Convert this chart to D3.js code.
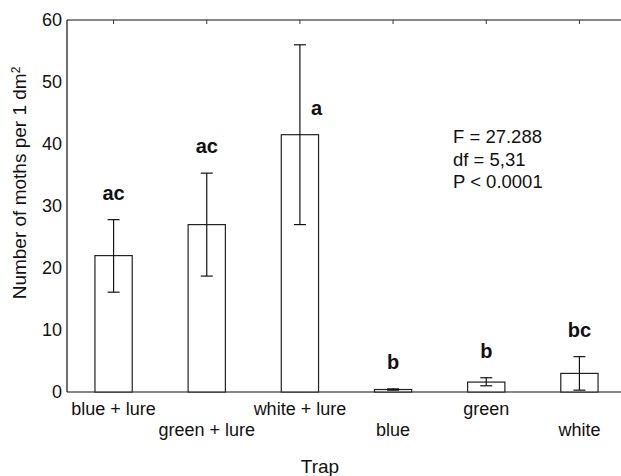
<!DOCTYPE html>
<html lang="en">
<head>
    <meta charset="UTF-8">
    <title>Moths per trap</title>
    <script src="https://d3js.org/d3.v7.min.js"></script>
    <style>
        body { margin: 0; background: #fff; font-family: "Liberation Sans", Arial, sans-serif; }
        svg text { fill: #111; }
    </style>
</head>
<body>
    <div id="chart"></div>
    <script>
        // Trap types and their group rows on the x axis (alternating)
        const traps = ["blue + lure", "green + lure", "white + lure", "blue", "green", "white"];
        const labelRow = [0, 1, 0, 1, 0, 1];

        // Mean catches and error bar limits
        const means = [22.0, 27.0, 41.5, 0.4, 1.6, 3.0];
        const upper = [27.8, 35.3, 56.0, 0.5, 2.3, 5.7];
        const lower = [16.1, 18.7, 27.0, 0.3, 1.0, 0.3];

        // Significance letters
        const letters = ["ac", "ac", "a", "b", "b", "bc"];

        const yTicks = [0, 10, 20, 30, 40, 50, 60];
        const stats = ["F = 27.288", "df = 5,31", "P < 0.0001"];

        const width = 621, height = 476;
        const margin = { top: 20, right: -5, bottom: 84, left: 67 };

        const svg = d3.select("#chart").append("svg")
            .attr("width", width)
            .attr("height", height);

        const x = d3.scaleBand()
            .domain(traps)
            .range([margin.left, width - margin.right])
            .paddingInner(0.6)
            .paddingOuter(0.3);

        const y = d3.scaleLinear()
            .domain([0, 60])
            .range([height - margin.bottom, margin.top]);

        const cx = d => x(d) + x.bandwidth() / 2;

        // frame lines
        const g = svg.append("g").attr("stroke", "#111").attr("stroke-width", 1.2);
        g.append("line").attr("x1", margin.left).attr("x2", width).attr("y1", y(0)).attr("y2", y(0));
        g.append("line").attr("x1", margin.left).attr("x2", width).attr("y1", y(60)).attr("y2", y(60));
        g.append("line").attr("x1", margin.left).attr("x2", margin.left).attr("y1", y(0)).attr("y2", y(60));

        // inward ticks on top and bottom
        traps.forEach(t => {
            svg.append("line").attr("stroke", "#333")
                .attr("x1", cx(t)).attr("x2", cx(t))
                .attr("y1", y(0)).attr("y2", y(0) - 4);
            svg.append("line").attr("stroke", "#333")
                .attr("x1", cx(t)).attr("x2", cx(t))
                .attr("y1", y(60)).attr("y2", y(60) + 4);
        });

        // y tick labels
        svg.selectAll(".ytick").data(yTicks).enter().append("text")
            .attr("x", margin.left - 5)
            .attr("y", d => y(d))
            .attr("dy", "0.35em")
            .attr("text-anchor", "end")
            .style("font-size", "18px")
            .text(d => d);

        // bars
        svg.selectAll(".bar").data(traps).enter().append("rect")
            .attr("x", d => x(d))
            .attr("y", (d, i) => y(means[i]))
            .attr("width", x.bandwidth())
            .attr("height", (d, i) => y(0) - y(means[i]))
            .attr("fill", "#fff")
            .attr("stroke", "#222")
            .attr("stroke-width", 1.2);

        // error bars
        traps.forEach((t, i) => {
            const e = svg.append("g").attr("stroke", "#111").attr("stroke-width", 1.2);
            e.append("line").attr("x1", cx(t)).attr("x2", cx(t)).attr("y1", y(upper[i])).attr("y2", y(lower[i]));
            e.append("line").attr("x1", cx(t) - 6).attr("x2", cx(t) + 6).attr("y1", y(upper[i])).attr("y2", y(upper[i]));
            e.append("line").attr("x1", cx(t) - 6).attr("x2", cx(t) + 6).attr("y1", y(lower[i])).attr("y2", y(lower[i]));
        });

        // significance letters, the tall white + lure bar has its letter beside the whisker
        svg.selectAll(".letter").data(traps).enter().append("text")
            .attr("x", (d, i) => i === 2 ? cx(d) + 11 : cx(d))
            .attr("y", (d, i) => i === 2 ? y(means[i]) - 20 : y(upper[i]) - 20)
            .attr("text-anchor", (d, i) => i === 2 ? "start" : "middle")
            .style("font-size", "20px")
            .style("font-weight", "bold")
            .text((d, i) => letters[i]);

        // category labels
        svg.selectAll(".xlab").data(traps).enter().append("text")
            .attr("x", d => cx(d))
            .attr("y", (d, i) => y(0) + 23 + labelRow[i] * 21)
            .attr("text-anchor", "middle")
            .style("font-size", "18px")
            .text(d => d);

        // axis titles
        svg.append("text")
            .attr("x", 320)
            .attr("y", 473)
            .attr("text-anchor", "middle")
            .style("font-size", "19px")
            .text("Trap");

        const yl = svg.append("text")
            .attr("transform", "translate(26, 183) rotate(-90)")
            .attr("text-anchor", "middle")
            .style("font-size", "19px");
        yl.append("tspan").text("Number of moths per 1 dm");
        yl.append("tspan").attr("dy", "-0.5em").style("font-size", "12px").text("2");

        // statistics box
        svg.selectAll(".stat").data(stats).enter().append("text")
            .attr("x", 453)
            .attr("y", (d, i) => 143 + i * 22.5)
            .style("font-size", "18.5px")
            .text(d => d);
    </script>
</body>
</html>
